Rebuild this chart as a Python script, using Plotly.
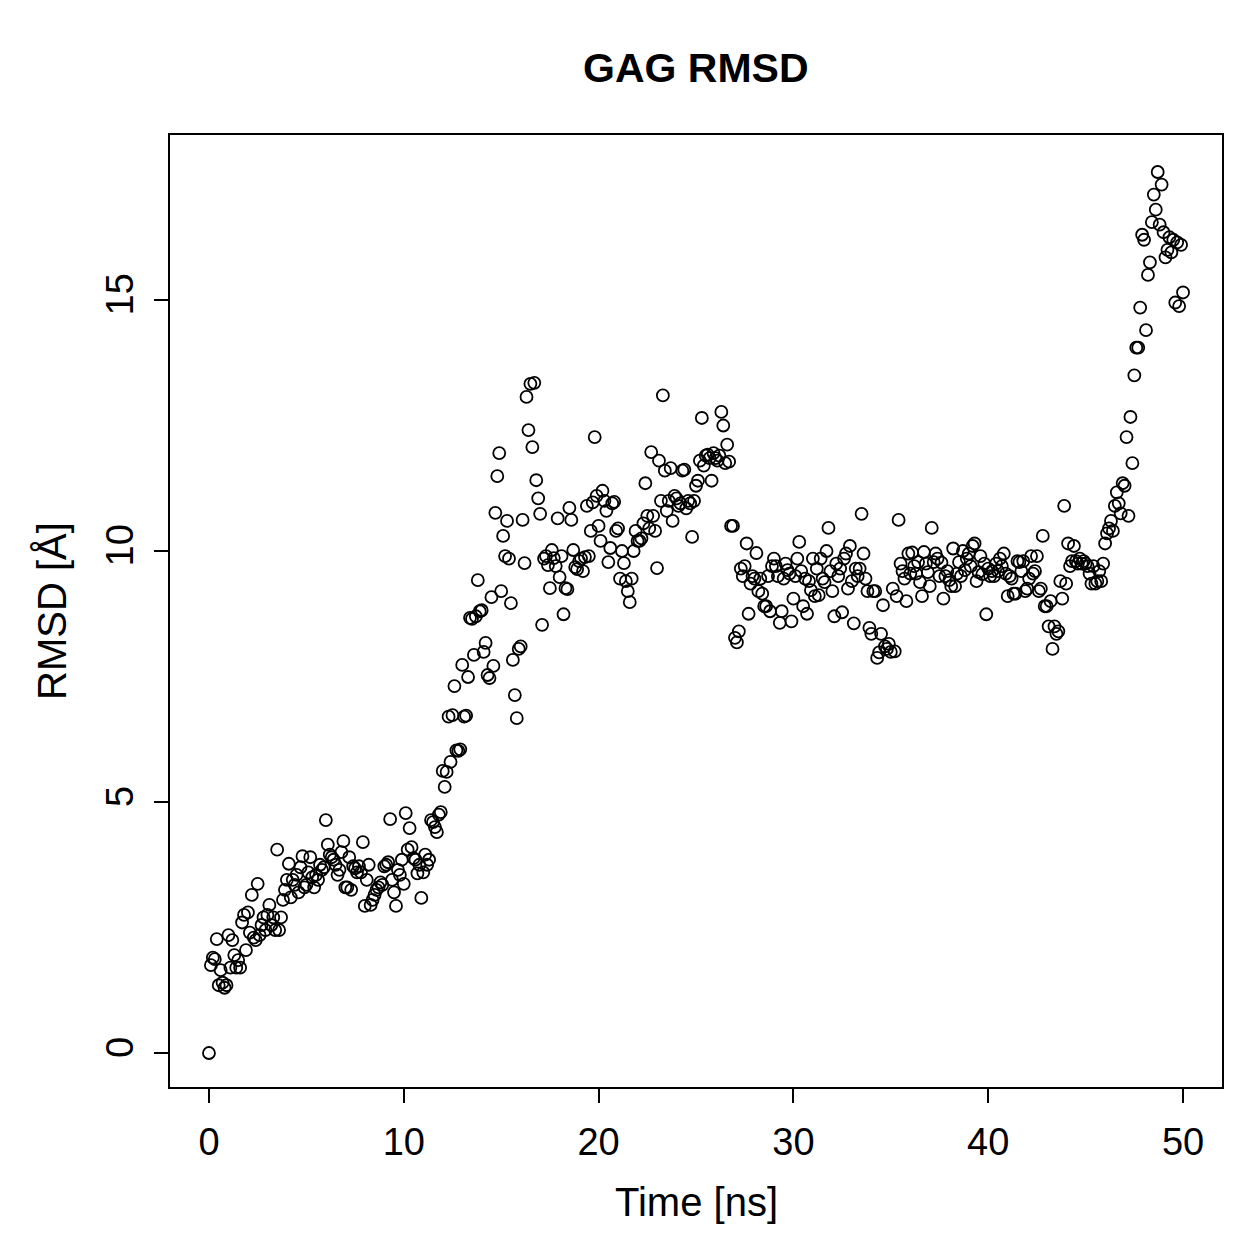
import numpy as np
import plotly.graph_objects as go

# RMSD values (Å), one row per ns, sampled every 0.1 ns
ns00 = [0.0, 1.75, 1.9, 1.87, 2.27, 1.35, 1.65, 1.4, 1.3, 1.35]
ns01 = [2.35, 1.7, 2.25, 1.95, 1.7, 1.85, 1.7, 2.6, 2.75, 2.05]
ns02 = [2.8, 2.4, 3.15, 2.3, 2.25, 3.37, 2.35, 2.55, 2.7, 2.45]
ns03 = [2.75, 2.95, 2.55, 2.7, 2.45, 4.05, 2.45, 2.7, 3.05, 3.25]
ns04 = [3.45, 3.77, 3.1, 3.45, 3.35, 3.55, 3.2, 3.7, 3.92, 3.3]
ns05 = [3.35, 3.6, 3.9, 3.5, 3.3, 3.55, 3.45, 3.75, 3.65, 3.7]
ns06 = [4.64, 4.15, 3.95, 3.9, 3.85, 3.75, 3.55, 3.65, 4.0, 4.22]
ns07 = [3.3, 3.3, 3.9, 3.25, 3.72, 3.68, 3.6, 3.72, 3.6, 4.2]
ns08 = [2.93, 3.45, 3.75, 2.95, 3.05, 3.15, 3.25, 3.3, 3.4, 3.35]
ns09 = [3.72, 3.75, 3.8, 4.66, 3.45, 3.2, 2.93, 3.65, 3.55, 3.85]
ns10 = [3.37, 4.78, 4.05, 4.48, 4.1, 3.88, 3.85, 3.58, 3.75, 3.09]
ns11 = [3.6, 3.95, 3.75, 3.85, 4.64, 4.6, 4.5, 4.4, 4.75, 4.8]
ns12 = [5.62, 5.3, 5.6, 6.7, 5.8, 6.73, 7.31, 6.03, 6.02, 6.05]
ns13 = [7.73, 6.7, 6.72, 7.49, 8.67, 8.65, 7.93, 8.7, 9.42, 8.8]
ns14 = [8.82, 7.99, 8.17, 7.53, 7.47, 9.08, 7.71, 10.76, 11.49, 11.95]
ns15 = [9.2, 10.3, 9.9, 10.6, 9.85, 8.96, 7.83, 7.13, 6.67, 8.05]
ns16 = [8.1, 10.62, 9.76, 13.07, 12.41, 13.33, 12.07, 13.35, 11.41, 11.05]
ns17 = [10.74, 8.53, 9.85, 9.9, 9.72, 9.26, 10.02, 9.86, 9.7, 10.65]
ns18 = [9.48, 9.9, 8.74, 9.26, 9.24, 10.86, 10.62, 10.02, 9.68, 9.64]
ns19 = [9.8, 9.85, 9.6, 9.88, 10.9, 9.9, 10.4, 10.97, 12.27, 11.1]
ns20 = [10.5, 10.2, 11.2, 11.0, 10.8, 9.78, 10.06, 10.95, 10.98, 10.4]
ns21 = [10.45, 9.45, 10.0, 9.76, 9.4, 9.2, 8.98, 9.45, 10.0, 10.4]
ns22 = [10.2, 10.2, 10.25, 10.55, 11.35, 10.7, 10.45, 11.97, 10.7, 10.4]
ns23 = [9.66, 11.8, 11.0, 13.1, 11.6, 10.8, 11.0, 11.65, 10.6, 11.1]
ns24 = [11.05, 10.9, 10.95, 11.6, 11.62, 10.85, 11.0, 10.95, 10.28, 11.0]
ns25 = [11.3, 11.4, 11.8, 12.65, 11.7, 11.9, 11.92, 11.85, 11.4, 11.95]
ns26 = [11.85, 11.8, 11.9, 12.77, 12.5, 11.75, 12.12, 11.78, 10.5, 10.5]
ns27 = [8.27, 8.18, 8.4, 9.65, 9.5, 9.7, 10.15, 8.75, 9.35, 9.5]
ns28 = [9.45, 9.96, 9.2, 9.45, 9.15, 8.9, 8.9, 9.5, 8.8, 9.7]
ns29 = [9.85, 9.7, 9.5, 8.57, 8.8, 9.45, 9.75, 9.62, 9.55, 8.6]
ns30 = [9.05, 9.5, 9.85, 10.18, 9.6, 8.9, 9.45, 8.75, 9.4, 9.22]
ns31 = [9.85, 9.1, 9.65, 9.12, 9.85, 9.45, 9.38, 10.0, 10.46, 9.6]
ns32 = [9.2, 8.7, 9.75, 9.5, 9.65, 8.78, 9.85, 9.95, 9.25, 10.1]
ns33 = [9.4, 8.56, 9.65, 9.5, 9.65, 10.74, 9.95, 9.45, 9.2, 8.47]
ns34 = [8.35, 9.2, 9.2, 7.87, 7.98, 8.35, 8.92, 8.1, 8.05, 8.15]
ns35 = [7.99, 9.25, 8.0, 9.1, 10.62, 9.75, 9.6, 9.45, 9.0, 9.95]
ns36 = [9.55, 9.97, 9.7, 9.55, 9.78, 9.38, 9.1, 9.98, 9.75, 9.58]
ns37 = [9.3, 10.46, 9.78, 9.95, 9.85, 9.5, 9.77, 9.05, 9.5, 9.6]
ns38 = [9.42, 9.3, 10.05, 9.3, 9.55, 9.78, 9.5, 10.0, 9.62, 9.85]
ns39 = [9.95, 9.7, 10.1, 10.15, 9.4, 9.58, 9.9, 9.54, 9.75, 8.74]
ns40 = [9.65, 9.5, 9.6, 9.5, 9.75, 9.6, 9.85, 9.7, 9.95, 9.55]
ns41 = [9.1, 9.5, 9.45, 9.15, 9.15, 9.8, 9.78, 9.6, 9.8, 9.2]
ns42 = [9.25, 9.45, 9.9, 9.55, 9.6, 9.9, 9.2, 9.25, 10.3, 8.9]
ns43 = [8.9, 8.5, 9.0, 8.05, 8.5, 8.35, 8.4, 9.4, 9.05, 10.9]
ns44 = [9.35, 10.15, 9.7, 9.8, 10.1, 9.8, 9.75, 9.85, 9.75, 9.8]
ns45 = [9.75, 9.7, 9.55, 9.35, 9.7, 9.35, 9.4, 9.6, 9.4, 9.75]
ns46 = [10.15, 10.35, 10.45, 10.6, 10.4, 10.9, 11.17, 10.95, 10.75, 11.35]
ns47 = [11.3, 12.27, 10.7, 12.67, 11.75, 13.5, 14.05, 14.05, 14.85, 16.3]
ns48 = [16.2, 14.4, 15.5, 15.75, 16.55, 17.1, 16.8, 17.55, 16.5, 17.3]
ns49 = [16.35, 15.85, 16.0, 16.25, 15.95, 16.2, 14.95, 16.15, 14.88, 16.1]
ns50 = [15.15]

rows = [ns00, ns01, ns02, ns03, ns04, ns05, ns06, ns07, ns08, ns09,
        ns10, ns11, ns12, ns13, ns14, ns15, ns16, ns17, ns18, ns19,
        ns20, ns21, ns22, ns23, ns24, ns25, ns26, ns27, ns28, ns29,
        ns30, ns31, ns32, ns33, ns34, ns35, ns36, ns37, ns38, ns39,
        ns40, ns41, ns42, ns43, ns44, ns45, ns46, ns47, ns48, ns49, ns50]
rmsd = [v for r in rows for v in r]
time_ns = np.arange(len(rmsd)) * 0.1

x_ticks = [0, 10, 20, 30, 40, 50]
y_ticks = [0, 5, 10, 15]

FONT = "Liberation Sans, Arial, Helvetica, sans-serif"

fig = go.Figure()
fig.add_trace(go.Scatter(
    x=time_ns, y=rmsd, mode="markers",
    marker=dict(symbol="circle-open", size=12, color="black",
                line=dict(width=1.8, color="black")),
    showlegend=False, hoverinfo="skip"))

fig.update_layout(
    width=1259, height=1259,
    margin=dict(l=170, r=37, t=135, b=172),
    paper_bgcolor="white", plot_bgcolor="white",
    font=dict(family=FONT, color="black", size=38),
    xaxis=dict(range=[-2, 52], tickvals=x_ticks, ticks="outside", ticklen=14,
               tickwidth=2.4, tickcolor="black", showline=True, linewidth=2.4,
               linecolor="black", mirror=True, showgrid=False, zeroline=False,
               tickfont=dict(size=38), ticklabelstandoff=6),
    yaxis=dict(range=[-0.677, 18.287], tickvals=y_ticks, ticks="outside", ticklen=14,
               tickwidth=2.4, tickcolor="black", showline=True, linewidth=2.4,
               linecolor="black", mirror=True, showgrid=False, zeroline=False,
               tickangle=-90, tickfont=dict(size=38), ticklabelstandoff=6),
)

plot_h = 1259 - 135 - 172
plot_w = 1259 - 170 - 37
def py(pix):
    return (1087 - pix) / plot_h
def px(pix):
    return (pix - 170) / plot_w

fig.add_annotation(text="<b>GAG RMSD</b>", x=px(696), y=py(68), xref="paper", yref="paper",
                   showarrow=False, font=dict(size=41), xanchor="center", yanchor="middle")
fig.add_annotation(text="Time [ns]", x=px(696), y=py(1202), xref="paper", yref="paper",
                   showarrow=False, font=dict(size=40), xanchor="center", yanchor="middle")
fig.add_annotation(text="RMSD [Å]", x=px(52), y=py(611), xref="paper", yref="paper",
                   showarrow=False, font=dict(size=40), textangle=-90,
                   xanchor="center", yanchor="middle")

fig.write_html("out.html")
